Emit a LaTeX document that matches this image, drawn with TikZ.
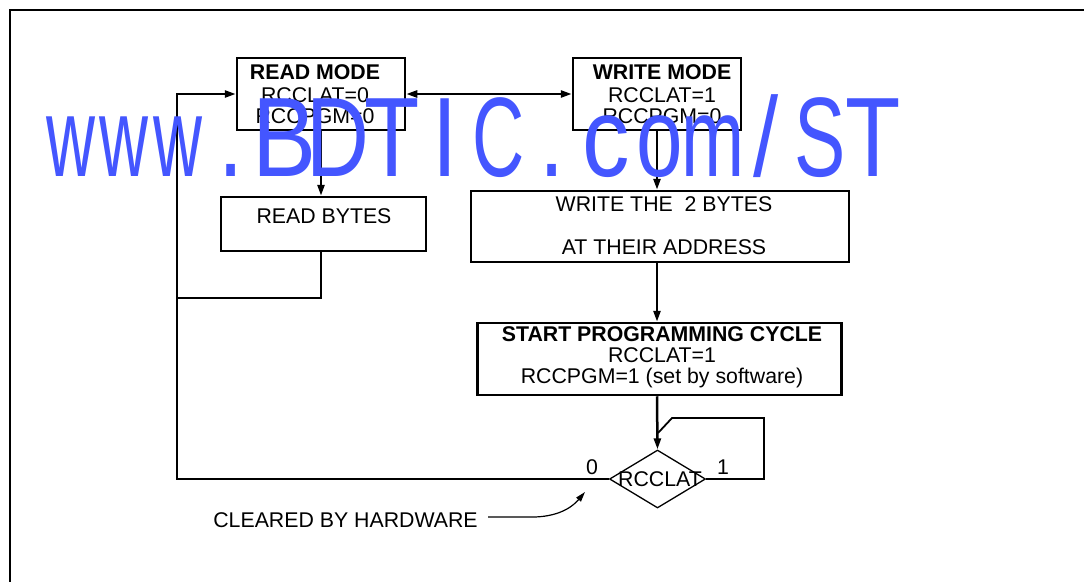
\documentclass[tikz,border=0pt]{standalone}
\usepackage{fontspec}
\setmainfont{Liberation Sans}
\usetikzlibrary{shapes.geometric,arrows.meta}
\definecolor{wmblue}{RGB}{68,86,255}
\tikzset{
  box/.style={draw, line width=2.5pt, inner sep=0pt},
  txt/.style={align=center, inner sep=0pt, font=\fontsize{21.3}{21}\selectfont},
  conn/.style={line width=2.5pt},
  arr/.style={line width=2.5pt, -{Triangle[length=11pt,width=7pt]}},
  darr/.style={line width=2.5pt, {Triangle[length=11pt,width=7pt]}-{Triangle[length=11pt,width=7pt]}},
  wmark/.style={text=wmblue, inner sep=0pt, anchor=base, font=\fontsize{113}{113}\selectfont}
}
\begin{document}
\begin{tikzpicture}[x=1pt,y=-1pt]
\useasboundingbox (0,0) rectangle (1084,581);
\clip (0,0) rectangle (1084,581);
% frame
\draw[line width=2.5pt] (10,600) -- (10,10) -- (1100,10);
% boxes
\node[box, minimum width=168pt, minimum height=72pt] (rm) at (321,94) {};
\node[txt] (rmt) at (315,94) {\textbf{READ MODE}\\[1.5pt]RCCLAT=0\\RCCPGM=0};
\node[box, minimum width=168pt, minimum height=72pt] (wm) at (657,94) {};
\node[txt] (wmt) at (662,94) {\textbf{WRITE MODE}\\[1.5pt]RCCLAT=1\\RCCPGM=0};
\node[box, minimum width=205pt, minimum height=54pt] (rb) at (323.5,224) {};
\node[txt] (rbt) at (324,216) {READ BYTES};
\node[box, minimum width=378pt, minimum height=71pt] (wt) at (660,226.5) {};
\node[txt] (wtt) at (664,225.5) {WRITE THE~~2 BYTES\\[21.5pt]AT THEIR ADDRESS};
\node[box, minimum width=364pt, minimum height=72pt] (sp) at (659.5,359) {};
\node[txt] (spt) at (662,357) {\textbf{START PROGRAMMING CYCLE}\\RCCLAT=1\\RCCPGM=1 (set by software)};
\node[draw, diamond, line width=1.3pt, minimum width=96pt, minimum height=58pt, inner sep=0pt] (dia) at (657.5,479) {};
\node[txt] (diat) at (660,479) {RCCLAT};
\node[txt] (l0) at (592,467) {0};
\node[txt] (l1) at (723,467) {1};
\node[txt] (cbh) at (345.5,520) {CLEARED BY HARDWARE};
% coordinates
\coordinate (ltop) at (177,94);
\coordinate (lbot) at (177,479);
\coordinate (rbo) at (321,298);
\coordinate (rbl) at (177,298);
\coordinate (lp1) at (764,479);
\coordinate (lp2) at (764,418);
\coordinate (lp3) at (672,418);
\coordinate (lp4) at (658,433);
\coordinate (cs) at (488,517);
\coordinate (ce) at (585,492);
% connectors
\draw[darr] (rm.east) -- (wm.west);
\draw[arr] (dia.west) -- (lbot) -- (ltop) -- (rm.west);
\draw[arr] (rm.south) -- (rm.south |- rb.north);
\draw[conn] (rm.south |- rb.south) -- (rbo) -- (rbl);
\draw[arr] (wm.south) -- (wm.south |- wt.north);
\draw[arr] (wm.south |- wt.south) -- (wm.south |- sp.north);
\draw[arr] (wm.south |- sp.south) -- (dia.north);
\draw[line width=1.8pt] (dia.east) -- (lp1) -- (lp2) -- (lp3) -- (lp4);
\draw[line width=1.2pt, -{Triangle[length=10pt,width=6pt]}] (cs) -- (535,517) .. controls (562,516) and (574,505) .. (ce);
% watermark
\foreach \c/\s [count=\i from 0] in {w/0.6,w/0.6,w/0.6,./0.8,B/0.85,D/0.77,T/0.8,I/0.8,C/0.64,./0.8,c/0.84,o/0.74,m/0.67,{/}/0.8,S/0.68,T/0.8}
  \node[wmark] (wmk\i) at (70.75+53.5*\i,176) {\scalebox{\s}[1]{\c}};
\end{tikzpicture}
\end{document}
